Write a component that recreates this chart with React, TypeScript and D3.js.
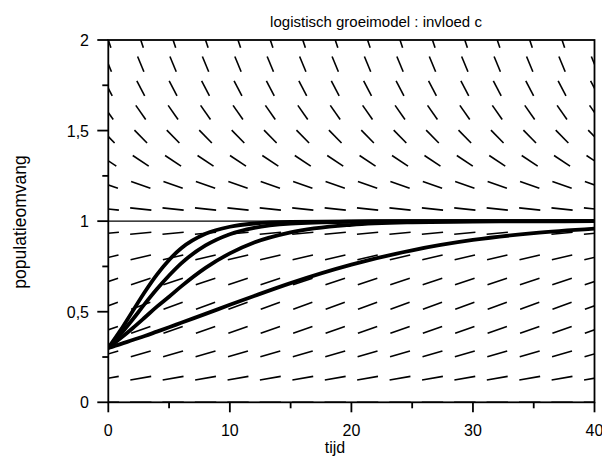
import React from "react";
import * as d3 from "d3";

// ---- data ----
const xTicks = [0, 10, 20, 30, 40];
const xMinorTicks = [5, 15, 25, 35];
const yTicks = [0, 0.5, 1, 1.5, 2];
const yTickLabels = ["0", "0,5", "1", "1,5", "2"];
const yMinorTicks = [0.25, 0.75, 1.25, 1.75];

// direction field grid (t columns, y rows) and row slopes dy/dt
const fieldTimes = [0, 2.67, 5.33, 8, 10.67, 13.33, 16, 18.67, 21.33, 24, 26.67, 29.33, 32, 34.67, 37.33, 40];
const fieldLevels = [0, 0.133, 0.267, 0.4, 0.533, 0.667, 0.8, 0.933, 1.067, 1.2, 1.333, 1.467, 1.6, 1.733, 1.867, 2];
const fieldSlopes = [0, 0.0116, 0.0196, 0.024, 0.0249, 0.0222, 0.016, 0.0062, -0.0071, -0.024, -0.0444, -0.0684, -0.096, -0.1271, -0.1618, -0.2];

// solution curves
const curveTimes = [0, 1, 2, 3, 4, 5, 6, 8, 10, 12, 15, 20, 25, 30, 35, 40];
const curveA = [0.3, 0.397, 0.503, 0.609, 0.705, 0.786, 0.85, 0.93, 0.969, 0.987, 0.996, 0.999, 1.0, 1.0, 1.0, 1.0];
const curveB = [0.3, 0.375, 0.457, 0.543, 0.625, 0.7, 0.767, 0.866, 0.928, 0.963, 0.986, 0.997, 1.0, 1.0, 1.0, 1.0];
const curveC = [0.3, 0.353, 0.409, 0.468, 0.528, 0.583, 0.64, 0.742, 0.822, 0.882, 0.938, 0.98, 0.994, 0.998, 0.999, 1.0];
const curveD = [0.3, 0.321, 0.344, 0.366, 0.39, 0.414, 0.439, 0.488, 0.538, 0.587, 0.658, 0.76, 0.839, 0.896, 0.934, 0.959];
const curves = [curveA, curveB, curveC, curveD];
const equilibrium = 1;

const title = "logistisch groeimodel : invloed c";
const xTitle = "tijd";
const yTitle = "populatieomvang";

export default function App() {
  const W = 602, H = 456;
  const left = 108.3, right = 594.5, top = 40, bottom = 402.3;
  const x = d3.scaleLinear().domain([0, 40]).range([left, right]);
  const y = d3.scaleLinear().domain([0, 2]).range([bottom, top]);
  const font = "'Liberation Sans', Arial, sans-serif";

  // segments with constant length in normalised (t/40, y/2) space
  const L = 0.044;
  const segs: { x1: number; y1: number; x2: number; y2: number; k: string }[] = [];
  fieldTimes.forEach((t, i) => {
    fieldLevels.forEach((lv, j) => {
      const s = fieldSlopes[j];
      const dvdu = s * 20;
      const n = Math.sqrt(1 + dvdu * dvdu);
      const du = (L / 2) / n;
      const dv = (L / 2) * dvdu / n;
      segs.push({
        x1: x(t - du * 40), y1: y(lv - dv * 2),
        x2: x(t + du * 40), y2: y(lv + dv * 2),
        k: i + "-" + j,
      });
    });
  });

  const line = d3.line<number>()
    .x((_, i) => x(curveTimes[i]))
    .y((v) => y(v))
    .curve(d3.curveMonotoneX);

  return (
    <svg width={W} height={H} style={{ position: "absolute", left: 0, top: 0, background: "#fff" }} fontFamily={font}>
      <defs>
        <clipPath id="plot">
          <rect x={left} y={top} width={right - left} height={bottom - top} />
        </clipPath>
      </defs>
      <rect x={0} y={0} width={W} height={H} fill="#fff" />
      <g clipPath="url(#plot)">
        {segs.map((s) => (
          <line key={s.k} x1={s.x1} y1={s.y1} x2={s.x2} y2={s.y2} stroke="#000" strokeWidth={1.6} />
        ))}
        <line x1={left} x2={right} y1={y(equilibrium)} y2={y(equilibrium)} stroke="#000" strokeWidth={1.4} />
        {curves.map((c, i) => (
          <path key={i} d={line(c) || ""} fill="none" stroke="#000" strokeWidth={3.8} strokeLinejoin="round" />
        ))}
      </g>
      {/* frame */}
      <rect x={left} y={top} width={right - left} height={bottom - top} fill="none" stroke="#000" strokeWidth={1.8} />
      {/* x ticks */}
      {xTicks.map((t) => (
        <g key={"xt" + t}>
          <line x1={x(t)} x2={x(t)} y1={bottom} y2={bottom + 10} stroke="#000" strokeWidth={1.8} />
          <text x={x(t)} y={436} textAnchor="middle" fontSize={16}>{t}</text>
        </g>
      ))}
      {xMinorTicks.map((t) => (
        <line key={"xm" + t} x1={x(t)} x2={x(t)} y1={bottom} y2={bottom + 6} stroke="#000" strokeWidth={1.8} />
      ))}
      {/* y ticks */}
      {yTicks.map((v, i) => (
        <g key={"yt" + v}>
          <line x1={left - 11} x2={left} y1={y(v)} y2={y(v)} stroke="#000" strokeWidth={1.8} />
          <text x={89} y={y(v) + 6} textAnchor="end" fontSize={16}>{yTickLabels[i]}</text>
        </g>
      ))}
      {yMinorTicks.map((v) => (
        <line key={"ym" + v} x1={left - 6} x2={left} y1={y(v)} y2={y(v)} stroke="#000" strokeWidth={1.8} />
      ))}
      <text x={376} y={27} textAnchor="middle" fontSize={15}>{title}</text>
      <text x={335} y={453} textAnchor="middle" fontSize={16}>{xTitle}</text>
      <text transform="translate(26,222) rotate(-90)" textAnchor="middle" fontSize={17.5}>{yTitle}</text>
    </svg>
  );
}
